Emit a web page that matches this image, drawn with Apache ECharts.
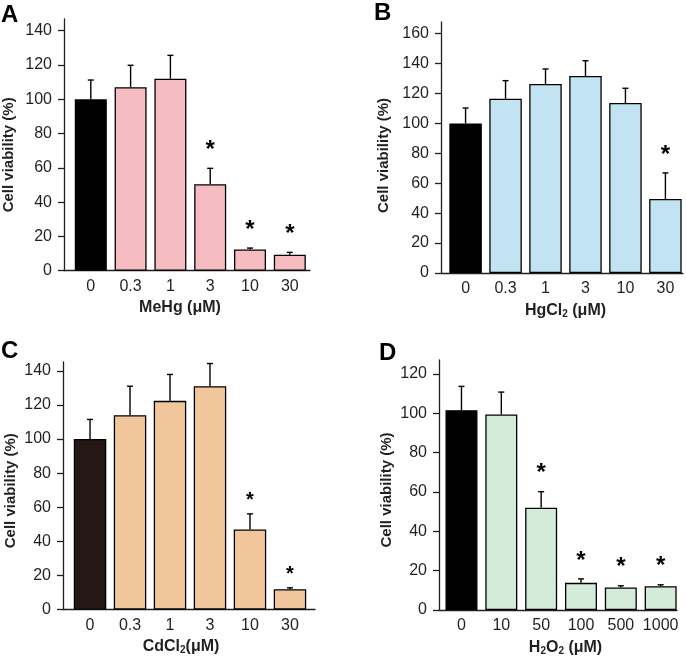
<!DOCTYPE html>
<html>
<head>
<meta charset="utf-8">
<script src="https://cdn.jsdelivr.net/npm/echarts@6/dist/echarts.min.js"></script>
<style>
html,body{margin:0;padding:0;background:#fff;}
#main{width:686px;height:657px;}
</style>
</head>
<body>
<div id="main"></div>
<script>
// ---- Data ----
const catsA = ['0', '0.3', '1', '3', '10', '30'];
const valsA = [100, 107, 112, 50.4, 12.4, 9.3];
const errA  = [11.2, 12.8, 13.6, 9.3, 0.8, 1.4];
const sigA  = [0, 0, 0, 1, 1, 1];

const catsB = ['0', '0.3', '1', '3', '10', '30'];
const valsB = [100, 116.5, 126.4, 131.7, 113.6, 49.5];
const errB  = [10.3, 12.1, 10.0, 10.2, 9.9, 17.4];
const sigB  = [0, 0, 0, 0, 0, 1];

const catsC = ['0', '0.3', '1', '3', '10', '30'];
const valsC = [100, 114, 122.4, 131, 46.9, 11.9];
const errC  = [11.5, 17.0, 15.5, 13.3, 9.2, 0.8];
const sigC  = [0, 0, 0, 0, 1, 1];

const catsD = ['0', '10', '50', '100', '500', '1000'];
const valsD = [101.5, 99.3, 52, 13.8, 11.4, 12.1];
const errD  = [12.1, 11.4, 8.1, 2.0, 0.9, 0.7];
const sigD  = [0, 0, 1, 1, 1, 1];

const ticksA = [0, 20, 40, 60, 80, 100, 120, 140];
const ticksB = [0, 20, 40, 60, 80, 100, 120, 140, 160];
const ticksC = [0, 20, 40, 60, 80, 100, 120, 140];
const ticksD = [0, 20, 40, 60, 80, 100, 120];

// ---- Styling / layout ----
const FONT = '"Liberation Sans", Arial, Helvetica, sans-serif';
const AX = '#231f20';
const panels = [
  {cats: catsA, vals: valsA, err: errA, sig: sigA, ticks: ticksA, ymax: 146.8,
   grid: {left: 64, top: 19, width: 246, height: 251.7}, xmin: -0.673, xmax: 5.507, bw: 32,
   color: '#f5bdc1', first: '#000000', name: 'MeHg (μM)', namePad: [0, 14, 0, 0],
   yGap: 48, yPad: [0, 20, 0, 0], starSize: 24, starOff: 18},
  {cats: catsB, vals: valsB, err: errB, sig: sigB, ticks: ticksB, ymax: 167.8,
   grid: {left: 441, top: 22, width: 242, height: 251}, xmin: -0.615, xmax: 5.44, bw: 32.5,
   color: '#c2e3f1', first: '#000000', name: '{t|HgCl}{s|2}{t| (μM)}', namePad: [0, 0, 0, 7],
   yGap: 50, yPad: [0, 16, 0, 0], starSize: 24, starOff: 18},
  {cats: catsC, vals: valsC, err: errC, sig: sigC, ticks: ticksC, ymax: 145.2,
   grid: {left: 63, top: 362, width: 252, height: 247.5}, xmin: -0.676, xmax: 5.626, bw: 32.5,
   color: '#f1c69a', first: '#231815', name: '{t|CdCl}{s|2}{t|(μM)}', namePad: [0, 16, 0, 0],
   yGap: 45, yPad: [0, 10, 0, 0], starSize: 20, starOff: 13},
  {cats: catsD, vals: valsD, err: errD, sig: sigD, ticks: ticksD, ymax: 127,
   grid: {left: 439, top: 360, width: 238, height: 252}, xmin: -0.564, xmax: 5.41, bw: 32,
   color: '#d5ebda', first: '#000000', name: '{t|H}{s|2}{t|O}{s|2}{t| (μM)}', namePad: [0, 0, 0, 15],
   yGap: 45, yPad: [0, 10, 0, 0], starSize: 24, starOff: 18}
];

const grids = [], xAxes = [], yAxes = [], series = [];
panels.forEach((p, k) => {
  grids.push(Object.assign({containLabel: false}, p.grid));
  const cats = p.cats;
  xAxes.push({
    type: 'value', gridIndex: k, min: p.xmin, max: p.xmax,
    name: p.name, nameLocation: 'middle', nameGap: 29,
    nameTextStyle: {
      fontFamily: FONT, fontSize: 16, fontWeight: 'bold', color: AX, padding: p.namePad,
      rich: {
        t: {fontFamily: FONT, fontSize: 16, fontWeight: 'bold', color: AX},
        s: {fontFamily: FONT, fontSize: 10, fontWeight: 'bold', color: AX, padding: [7, 0, 0, 0]}
      }
    },
    axisLine: {show: true, onZero: false, lineStyle: {color: AX, width: 1.3}},
    axisTick: {show: false},
    splitLine: {show: false},
    axisLabel: {
      customValues: [0, 1, 2, 3, 4, 5],
      formatter: v => cats[Math.round(v)],
      fontFamily: FONT, fontSize: 16, color: AX, margin: 8
    }
  });
  yAxes.push({
    type: 'value', gridIndex: k, min: 0, max: p.ymax,
    name: 'Cell viability (%)', nameLocation: 'middle', nameGap: p.yGap, nameRotate: 90,
    nameTextStyle: {fontFamily: FONT, fontSize: 15, fontWeight: 'bold', color: AX, padding: p.yPad},
    axisLine: {show: true, onZero: false, lineStyle: {color: AX, width: 1.3}},
    axisTick: {show: true, length: 6, customValues: p.ticks, lineStyle: {color: AX, width: 1.3}},
    splitLine: {show: false},
    axisLabel: {customValues: p.ticks, fontFamily: FONT, fontSize: 16, color: AX, margin: 12}
  });
  series.push({
    type: 'bar', xAxisIndex: k, yAxisIndex: k, barWidth: p.bw,
    data: p.vals.map((v, i) => ({value: [i, v], itemStyle: {color: i === 0 ? p.first : p.color}})),
    itemStyle: {borderColor: '#000', borderWidth: 1.3},
    silent: true, animation: false
  });
  series.push({
    type: 'custom', xAxisIndex: k, yAxisIndex: k, silent: true, animation: false, z: 5,
    data: p.vals.map((v, i) => [i, v, v + p.err[i], p.sig[i]]),
    renderItem: (params, api) => {
      const x = api.value(0), v = api.value(1), t = api.value(2), s = api.value(3);
      const base = api.coord([x, v]);
      const top = api.coord([x, t]);
      const children = [
        {type: 'line', shape: {x1: base[0], y1: base[1], x2: top[0], y2: top[1]},
         style: {stroke: '#000', lineWidth: 1.4}},
        {type: 'line', shape: {x1: top[0] - 3, y1: top[1], x2: top[0] + 3, y2: top[1]},
         style: {stroke: '#000', lineWidth: 1.4}}
      ];
      if (s) {
        children.push({type: 'text', x: top[0], y: top[1] - p.starOff,
          style: {text: '*', font: 'bold ' + p.starSize + 'px ' + FONT, fill: '#000',
                  align: 'center', verticalAlign: 'middle', padding: [p.starSize * 0.3, 0, 0, 0]}});
      }
      return {type: 'group', children: children};
    }
  });
});

const letters = [
  {t: 'A', x: 1, y: 3}, {t: 'B', x: 374, y: 1}, {t: 'C', x: 1, y: 339}, {t: 'D', x: 379, y: 341}
];

const chart = echarts.init(document.getElementById('main'), null, {renderer: 'canvas'});
chart.setOption({
  backgroundColor: '#ffffff',
  animation: false,
  grid: grids, xAxis: xAxes, yAxis: yAxes, series: series,
  graphic: letters.map(l => ({type: 'text', left: l.x, top: l.y,
    style: {text: l.t, font: 'bold 24px ' + FONT, fill: '#000'}}))
});
</script>
</body>
</html>
